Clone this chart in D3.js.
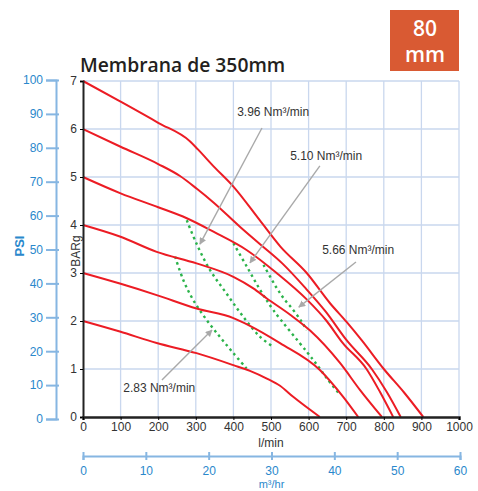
<!DOCTYPE html>
<html>
<head>
<meta charset="utf-8">
<script src="https://cdn.jsdelivr.net/npm/d3@7"></script>
<style>
  body { margin: 0; background: #fff; }
  text { font-family: "Liberation Sans", Arial, sans-serif; }
</style>
</head>
<body>
<div id="chart"></div>
<script>
// pressure curves (l/min, BARg), one per inlet pressure
var curve7 = [[0,7],[100,6.57],[200,6.13],[285,5.74],[305,5.58],[350,5.2],[400,4.8],[470,4.1],[525,3.55],[595,3.0],[657,2.37],[701,1.98],[741,1.6],[800,1.0],[855,0.5],[905,0]];
var curve6 = [[0,6],[100,5.63],[200,5.27],[258,5.02],[302,4.76],[347,4.47],[418,3.96],[471,3.6],[530,3.2],[590,2.7],[645,2.2],[701,1.6],[768,1.0],[808,0.52],[845,0]];
var curve5 = [[0,5],[100,4.66],[200,4.37],[276,4.14],[347,3.86],[435,3.48],[515,3.0],[595,2.45],[648,2.0],[690,1.55],[754,1.0],[790,0.52],[825,0]];
var curve4 = [[0,4],[98,3.76],[196,3.44],[302,3.2],[400,2.92],[453,2.68],[489,2.47],[551,2.13],[604,1.8],[684,1.12],[737,0.56],[795,0]];
var curve3 = [[0,3],[98,2.78],[196,2.54],[302,2.26],[400,2.06],[444,1.9],[524,1.54],[630,0.98],[692,0.42],[732,0]];
var curve2 = [[0,2],[98,1.78],[196,1.54],[302,1.33],[400,1.08],[444,0.96],[489,0.8],[524,0.65],[559,0.42],[630,0]];
var redCurves = [curve7, curve6, curve5, curve4, curve3, curve2];

// air consumption lines
var air283 = [[245,3.34],[267,2.85],[293,2.44],[329,2.02],[364,1.67],[400,1.33],[435,1.01]];
var air396 = [[276,4.1],[302,3.61],[338,3.06],[381,2.58],[426,2.09],[471,1.67],[506,1.46]];
var air510 = [[400,3.62],[436,3.13],[471,2.65],[506,2.23],[595,1.36],[626,1.05],[648,0.81],[684,0.46]];
var air566 = [[480,3.17],[515,2.69],[533,2.48],[559,2.23],[582,1.98],[595,1.81]];
var greenLines = [air283, air396, air510, air566];

// labels for the air lines: text position, arrow start, arrow tip
var airLabels = ["3.96 Nm³/min", "5.10 Nm³/min", "5.66 Nm³/min", "2.83 Nm³/min"];
var labelPos = [[410,6.27],[551,5.35],[636,3.4],[107,0.52]];
var arrowFrom = [[476,6.02],[630,5.23],[726,3.23],[210,0.77]];
var arrowTo = [[311,3.6],[444,3.21],[574,2.29],[343,1.81]];

var flowTicks = [0,100,200,300,400,500,600,700,800,900,1000];
var barTicks = [0,1,2,3,4,5,6,7];
var psiTicks = [0,10,20,30,40,50,60,70,80,90,100];
var m3Ticks = [0,10,20,30,40,50,60];

var W = 478, H = 491;
var blue = "#2a88cc", blueLine = "#86b6e2";

var svg = d3.select("#chart").append("svg")
    .attr("width", W)
    .attr("height", H);

var x = d3.scaleLinear().domain([0,1000]).range([83,459]);
var y = d3.scaleLinear().domain([0,7]).range([417,81]);
var psi = d3.scaleLinear().domain([0,100]).range([419,80]);
var m3 = d3.scaleLinear().domain([0,60]).range([83,460]);

// grid
svg.append("g").selectAll("line.v")
  .data(flowTicks.slice(1))
  .enter().append("line")
    .attr("x1", function(d){ return x(d); })
    .attr("x2", function(d){ return x(d); })
    .attr("y1", y(0)).attr("y2", y(7))
    .attr("stroke", "#c9d7ee").attr("stroke-width", 1.3);
svg.append("g").selectAll("line.h")
  .data(barTicks.slice(1))
  .enter().append("line")
    .attr("x1", x(0)).attr("x2", x(1000))
    .attr("y1", function(d){ return y(d); })
    .attr("y2", function(d){ return y(d); })
    .attr("stroke", "#c9d7ee").attr("stroke-width", 1.3);

// title
svg.append("text")
  .attr("x", 80).attr("y", 72)
  .style("font-family", "'Open Sans', sans-serif")
  .style("font-weight", 600)
  .style("font-size", "19.3px")
  .attr("fill", "#231f20")
  .text("Membrana de 350mm");

// badge
svg.append("rect")
  .attr("x", 390).attr("y", 10).attr("width", 69).attr("height", 61)
  .attr("fill", "#d95a33");
svg.append("text")
  .attr("x", 425).attr("y", 36)
  .attr("text-anchor", "middle")
  .style("font-family", "'Open Sans', sans-serif")
  .style("font-weight", 600).style("font-size", "21px")
  .attr("fill", "#fff").text("80");
svg.append("text")
  .attr("x", 425).attr("y", 62)
  .attr("text-anchor", "middle")
  .style("font-family", "'Open Sans', sans-serif")
  .style("font-weight", 600).style("font-size", "21px")
  .attr("fill", "#fff").text("mm");

// curves
var line = d3.line()
  .x(function(d){ return x(d[0]); })
  .y(function(d){ return y(d[1]); })
  .curve(d3.curveMonotoneX);

svg.append("g").selectAll("path")
  .data(greenLines)
  .enter().append("path")
    .attr("d", d3.line().x(function(d){ return x(d[0]); }).y(function(d){ return y(d[1]); }).curve(d3.curveCatmullRom))
    .attr("fill", "none")
    .attr("stroke", "#2bb34a")
    .attr("stroke-width", 2.4)
    .attr("stroke-dasharray", "2.5,3.5");

svg.append("g").selectAll("path")
  .data(redCurves)
  .enter().append("path")
    .attr("d", line)
    .attr("fill", "none")
    .attr("stroke", "#ec1c24")
    .attr("stroke-width", 2);

// left BAR axis
var gy = svg.append("g")
  .attr("transform", "translate(" + x(0) + ",0)")
  .call(d3.axisLeft(y).tickValues(barTicks).tickSize(3).tickPadding(3).tickFormat(d3.format("d")));
gy.select(".domain").attr("stroke", "#222").attr("stroke-width", 2);
gy.selectAll("text").style("font-size", "12px").attr("fill", "#333");
svg.append("text")
  .attr("transform", "translate(80,251)rotate(-90)")
  .attr("text-anchor", "middle")
  .style("font-size", "12px").attr("fill", "#333")
  .text("BARg");

// bottom flow axis
var gx = svg.append("g")
  .attr("transform", "translate(0," + y(0) + ")")
  .call(d3.axisBottom(x).tickValues(flowTicks).tickSize(3).tickPadding(2).tickFormat(d3.format("d")));
gx.select(".domain").attr("stroke", "#222").attr("stroke-width", 2.5);
gx.selectAll("text").style("font-size", "12px").attr("fill", "#333");
svg.append("text")
  .attr("x", x(500)).attr("y", 447)
  .attr("text-anchor", "middle")
  .style("font-size", "12px").attr("fill", "#333")
  .text("l/min");

// PSI axis
var gp = svg.append("g")
  .attr("transform", "translate(56,0)")
  .call(d3.axisLeft(psi).tickValues(psiTicks).tickSize(10).tickPadding(3));
gp.select(".domain").attr("stroke", blueLine).attr("stroke-width", 2);
gp.selectAll(".tick line").attr("stroke", blueLine).attr("stroke-width", 2).attr("x2", 3).attr("x1", -10);
gp.selectAll("text").style("font-size", "12px").attr("fill", blue);
svg.append("text")
  .attr("transform", "translate(24,246)rotate(-90)")
  .attr("text-anchor", "middle")
  .style("font-size", "13px").style("font-weight", "bold").attr("fill", blue)
  .text("PSI");

// m3/hr axis
var gm = svg.append("g")
  .attr("transform", "translate(0,456)")
  .call(d3.axisBottom(m3).tickValues(m3Ticks).tickSize(4).tickPadding(6));
gm.select(".domain").attr("stroke", blueLine).attr("stroke-width", 2);
gm.selectAll(".tick line").attr("stroke", blueLine).attr("stroke-width", 2).attr("y1", -4).attr("y2", 4);
gm.selectAll("text").style("font-size", "12px").attr("fill", blue);
svg.append("text")
  .attr("x", m3(30)).attr("y", 488)
  .attr("text-anchor", "middle")
  .style("font-size", "11px").attr("fill", blue)
  .text("m³/hr");

// arrows and labels
svg.append("defs").append("marker")
  .attr("id", "head")
  .attr("viewBox", "0 0 10 10")
  .attr("refX", 9).attr("refY", 5)
  .attr("markerWidth", 7).attr("markerHeight", 7)
  .attr("markerUnits", "userSpaceOnUse")
  .attr("orient", "auto")
  .append("path")
    .attr("d", "M0,0L10,5L0,10z")
    .attr("fill", "#a9a9a9");

svg.append("g").selectAll("line")
  .data(arrowFrom)
  .enter().append("line")
    .attr("x1", function(d){ return x(d[0]); })
    .attr("y1", function(d){ return y(d[1]); })
    .attr("x2", function(d, i){ return x(arrowTo[i][0]); })
    .attr("y2", function(d, i){ return y(arrowTo[i][1]); })
    .attr("stroke", "#a9a9a9")
    .attr("stroke-width", 1.4)
    .attr("marker-end", "url(#head)");

svg.append("g").selectAll("text")
  .data(airLabels)
  .enter().append("text")
    .attr("x", function(d, i){ return x(labelPos[i][0]); })
    .attr("y", function(d, i){ return y(labelPos[i][1]); })
    .style("font-size", "12px")
    .attr("fill", "#333")
    .text(function(d){ return d; });
</script>
</body>
</html>
